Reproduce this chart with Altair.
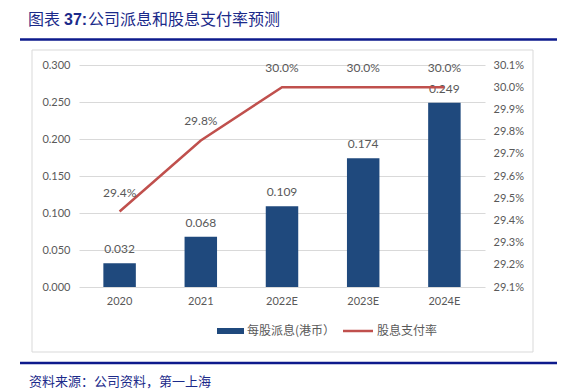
import altair as alt
import pandas as pd

years = ["2020", "2021", "2022E", "2023E", "2024E"]
dps = [0.032, 0.068, 0.109, 0.174, 0.249]
payout = [29.44, 29.76, 30.0, 30.0, 30.0]
left_ticks = [0.0, 0.05, 0.1, 0.15, 0.2, 0.25, 0.3]
right_ticks = [29.1, 29.2, 29.3, 29.4, 29.5, 29.6, 29.7, 29.8, 29.9, 30.0, 30.1]

title_a = "图表"
title_b = "37:"
title_rest = "公司派息和股息支付率预测"
source = "资料来源：公司资料，第一上海"
legend_bar = "每股派息(港币）"
legend_line = "股息支付率"

BAR = "#1F497D"
RED = "#C0504D"
NAVY = "#1B2A8A"
GREY = "#595959"
FONT = "Lato"
CJK = "Noto Sans CJK SC"

df = pd.DataFrame({"year": years, "dps": dps, "payout": payout})
one = pd.DataFrame({"a": [0]})

x_axis = alt.Axis(labelAngle=0, ticks=False, domain=False, labelPadding=8,
                  labelFont=FONT, labelFontSize=11, labelColor=GREY)
x_scale = alt.Scale(paddingInner=0.6, paddingOuter=0.3)


def xenc():
    return alt.X("year:N", sort=years, title=None, scale=x_scale, axis=x_axis)


left_axis = alt.Axis(orient="left", values=left_ticks, format=".3f", ticks=False,
                     domain=False, gridColor="#D9D9D9", labelPadding=9,
                     labelOverlap=False,
                     labelFont=FONT, labelFontSize=11, labelColor=GREY)
left_scale = alt.Scale(domain=[0, 0.3], nice=False)

right_axis = alt.Axis(orient="right", values=right_ticks, ticks=False, domain=False,
                      grid=False, labelExpr="format(datum.value, '.1f') + '%'",
                      labelOverlap=False,
                      labelPadding=8, labelFont=FONT, labelFontSize=11,
                      labelColor=GREY)
right_scale = alt.Scale(domain=[29.1, 30.1], nice=False, zero=False)

base = alt.Chart(df)

bars = base.mark_bar(color=BAR).encode(
    x=xenc(),
    y=alt.Y("dps:Q", title=None, scale=left_scale, axis=left_axis),
)
bar_text = base.mark_text(dy=-14, font=FONT, fontSize=12, color=GREY).encode(
    x=xenc(),
    y=alt.Y("dps:Q", title=None, scale=left_scale, axis=left_axis),
    text=alt.Text("dps:Q", format=".3f"),
)
left = alt.layer(bars, bar_text)

line = base.mark_line(color=RED, strokeWidth=2.5).encode(
    x=xenc(),
    y=alt.Y("payout:Q", title=None, scale=right_scale, axis=right_axis),
)
line_text = base.mark_text(dy=-19, font=FONT, fontSize=12, color=GREY).encode(
    x=xenc(),
    y=alt.Y("payout:Q", title=None, scale=right_scale, axis=right_axis),
    text=alt.Text("lab:N"),
).transform_calculate(lab="format(datum.payout, '.1f') + '%'")
right = alt.layer(line, line_text)

deco_base = alt.Chart(one)
frame = deco_base.mark_rect(fill=None, stroke="#D9D9D9", strokeWidth=1).encode(
    x=alt.value(-47), x2=alt.value(454), y=alt.value(-15), y2=alt.value(287))
rule_top = deco_base.mark_rule(color="#0D1A8C", strokeWidth=2.5).encode(
    x=alt.value(-59), x2=alt.value(486), y=alt.value(-25.5))
rule_bot = deco_base.mark_rule(color="#0D1A8C", strokeWidth=2.5).encode(
    x=alt.value(-59), x2=alt.value(486), y=alt.value(298))
t1 = deco_base.mark_text(align="left", baseline="alphabetic", font=CJK, fontSize=16,
                         color=NAVY).encode(
    x=alt.value(-51), y=alt.value(-40), text=alt.value(title_a))
t1b = deco_base.mark_text(align="left", baseline="alphabetic", font="Liberation Sans",
                          fontSize=16, fontWeight="bold", color=NAVY).encode(
    x=alt.value(-15), y=alt.value(-40), text=alt.value(title_b))
t2 = deco_base.mark_text(align="left", baseline="alphabetic", font=CJK, fontSize=16,
                         color=NAVY).encode(
    x=alt.value(9), y=alt.value(-40), text=alt.value(title_rest))
src = deco_base.mark_text(align="left", baseline="middle", font=CJK, fontSize=13,
                          color=NAVY).encode(
    x=alt.value(-50), y=alt.value(317), text=alt.value(source))
leg_rect = deco_base.mark_rect(color=BAR).encode(
    x=alt.value(138), x2=alt.value(165), y=alt.value(263), y2=alt.value(269))
leg_t1 = deco_base.mark_text(align="left", baseline="middle", font=CJK, fontSize=12,
                             color=GREY).encode(
    x=alt.value(168), y=alt.value(266), text=alt.value(legend_bar))
leg_line = deco_base.mark_rule(color=RED, strokeWidth=2.5).encode(
    x=alt.value(264), x2=alt.value(294), y=alt.value(266))
leg_t2 = deco_base.mark_text(align="left", baseline="middle", font=CJK, fontSize=12,
                             color=GREY).encode(
    x=alt.value(298), y=alt.value(266), text=alt.value(legend_line))

chart = alt.layer(
    frame, left, right, rule_top, rule_bot, t1, t1b, t2, src,
    leg_rect, leg_t1, leg_line, leg_t2
).resolve_scale(y="independent").properties(
    width=406, height=222,
    autosize=alt.AutoSizeParams(type="none"),
    padding={"left": 71, "top": 57, "right": 72, "bottom": 115},
    background="white",
).configure_view(stroke=None).configure_axis(labelOverlap=False)

chart.save("out.html", embed_options={"renderer": "svg", "actions": False})
